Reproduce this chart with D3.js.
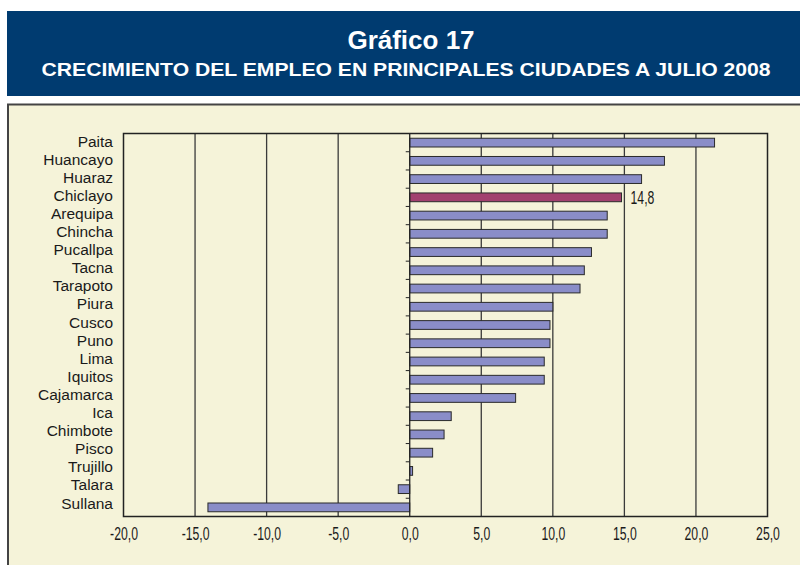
<!DOCTYPE html>
<html><head><meta charset="utf-8">
<script src="https://cdn.jsdelivr.net/npm/d3@7/dist/d3.min.js"></script>
<style>
html,body{margin:0;padding:0;background:#fff;}
svg{display:block;}
</style></head>
<body>
<svg id="c" width="800" height="565"></svg>
<script>
const title = "Gráfico 17";
const subtitle = "CRECIMIENTO DEL EMPLEO EN PRINCIPALES CIUDADES A JULIO 2008";
const cities = ["Paita","Huancayo","Huaraz","Chiclayo","Arequipa","Chincha","Pucallpa","Tacna","Tarapoto","Piura","Cusco","Puno","Lima","Iquitos","Cajamarca","Ica","Chimbote","Pisco","Trujillo","Talara","Sullana"];
const values = [21.3,17.8,16.2,14.8,13.8,13.8,12.7,12.2,11.9,10.0,9.8,9.8,9.4,9.4,7.4,2.9,2.4,1.6,0.2,-0.8,-14.1];
const highlight = ["Chiclayo"];
const xTicks = [-20,-15,-10,-5,0,5,10,15,20,25];
const labelled = [{city:"Chiclayo", text:"14,8"}];

const svg = d3.select("#c");
const narrow = "scale(0.68,1)";
// header
svg.append("rect").attr("x",7).attr("y",11).attr("width",793).attr("height",85).attr("fill","#003b70");
svg.append("text").attr("x",411).attr("y",49).attr("text-anchor","middle")
  .attr("font-family","Liberation Sans, Arial, sans-serif").attr("font-weight","bold")
  .attr("font-size",26).attr("fill","#fff").text(title);
svg.append("g").attr("transform","translate(406,75.5) scale(0.8,1)")
  .append("text").attr("x",0).attr("y",0).attr("text-anchor","middle")
  .attr("font-family","Liberation Sans, Arial, sans-serif").attr("font-weight","bold")
  .attr("font-size",19).attr("fill","#fff").attr("letter-spacing",0)
  .attr("textLength",729/0.8).attr("lengthAdjust","spacingAndGlyphs").text(subtitle);

// frame
svg.append("rect").attr("x",7).attr("y",104).attr("width",800).attr("height",470).attr("fill","#f5f3d9");
svg.append("path").attr("d","M8,565 V104.5 H800").attr("fill","none").attr("stroke","#444").attr("stroke-width",2);

const m = {l:123.5, r:767.5, t:133.5, b:516.5};
const x = d3.scaleLinear().domain([-20,25]).range([m.l, m.r]);
const y = d3.scaleBand().domain(cities).range([m.t, m.b]).paddingInner(0.52).paddingOuter(0.26);
const yb = d3.scaleBand().domain(cities).range([m.t, m.b]);
const yl = d3.scalePoint().domain(cities).range([146.5, 508.5]);

// gridlines
svg.append("g").selectAll("line").data(xTicks.filter(t=>t!==0 && t!==-20 && t!==25)).join("line")
  .attr("x1",d=>x(d)).attr("x2",d=>x(d)).attr("y1",m.t).attr("y2",m.b)
  .attr("stroke","#3a3a3a").attr("stroke-width",1.3);

// bars
svg.append("g").selectAll("rect").data(cities).join("rect")
  .attr("x",(d,i)=>x(Math.min(0,values[i])))
  .attr("y",d=>y(d))
  .attr("width",(d,i)=>Math.abs(x(values[i])-x(0)))
  .attr("height",y.bandwidth())
  .attr("fill",d=>highlight.includes(d)?"#a2406f":"#8a8dc8")
  .attr("stroke","#2a2a2a").attr("stroke-width",1);

// y axis at zero with ticks between categories
const zx = x(0);
svg.append("line").attr("x1",zx).attr("x2",zx).attr("y1",m.t).attr("y2",m.b).attr("stroke","#222").attr("stroke-width",1.3);
svg.append("g").selectAll("line").data(cities.slice(1)).join("line")
  .attr("x1",zx-4).attr("x2",zx).attr("y1",d=>yb(d)).attr("y2",d=>yb(d))
  .attr("stroke","#222").attr("stroke-width",1);

// plot border
svg.append("rect").attr("x",m.l).attr("y",m.t).attr("width",m.r-m.l).attr("height",m.b-m.t)
  .attr("fill","none").attr("stroke","#222").attr("stroke-width",1.5);

// category labels
svg.append("g").selectAll("text").data(cities).join("text")
  .attr("x",113).attr("y",d=>yl(d))
  .attr("text-anchor","end").attr("font-family","Liberation Sans, Arial, sans-serif")
  .attr("font-size",15.5).attr("fill","#1a1a1a").text(d=>d);

// x tick labels
const xAxis = d3.axisBottom(x).tickValues(xTicks).tickSize(0).tickPadding(0)
  .tickFormat(d=>d3.format(".1f")(d).replace(".",",").replace("−","-"));
const gx = svg.append("g").attr("transform",`translate(0,${m.b})`).call(xAxis);
gx.select(".domain").remove();
gx.selectAll("text").attr("dy",0).attr("y",24).attr("transform",narrow)
  .attr("font-family","Liberation Sans, Arial, sans-serif")
  .attr("font-size",18).attr("fill","#1a1a1a");

// data label
svg.append("g").selectAll("text").data(labelled).join("text")
  .attr("transform",d=>`translate(${x(values[cities.indexOf(d.city)])+9},${y(d.city)+y.bandwidth()/2+6.5}) ${narrow}`)
  .attr("font-family","Liberation Sans, Arial, sans-serif")
  .attr("font-size",18).attr("fill","#1a1a1a").text(d=>d.text);
</script>
</body></html>
